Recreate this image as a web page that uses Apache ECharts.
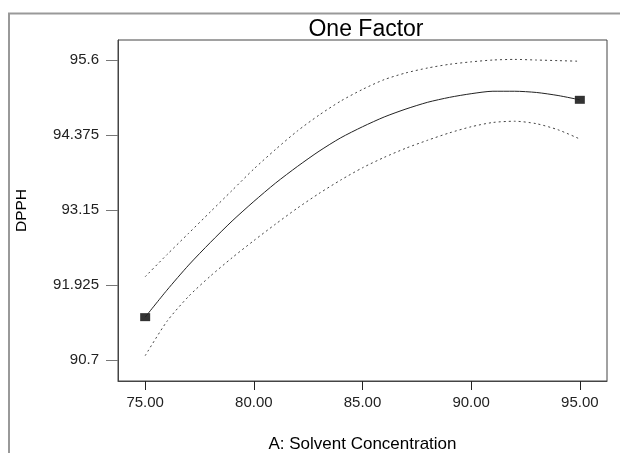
<!DOCTYPE html>
<html>
<head>
<meta charset="utf-8">
<script src="https://cdn.jsdelivr.net/npm/echarts@6/dist/echarts.min.js"></script>
<style>
html,body{margin:0;padding:0;background:#fff;}
#chart{width:620px;height:453px;}
</style>
</head>
<body>
<div id="chart"></div>
<script>
// Solvent concentration (x)
var xValues = [75,76,77,78,79,80,81,82,83,84,85,86,87,88,89,90,91,92,93,94,95];
// Predicted DPPH (solid line)
var meanValues = [91.40,91.84,92.25,92.62,92.97,93.29,93.59,93.86,94.11,94.33,94.51,94.67,94.80,94.91,94.99,95.05,95.09,95.09,95.07,95.02,94.95];
// Upper 95% CI band (dotted)
var upperValues = [92.06,92.42,92.77,93.12,93.47,93.82,94.14,94.44,94.70,94.93,95.12,95.28,95.39,95.47,95.53,95.57,95.60,95.61,95.60,95.59,95.58];
// Lower 95% CI band (dotted)
var lowerValues = [90.77,91.33,91.74,92.07,92.37,92.65,92.92,93.18,93.42,93.64,93.84,94.01,94.16,94.29,94.41,94.51,94.58,94.60,94.56,94.46,94.31];
// Design points (squares)
var pointX = [75, 95];
var pointY = [91.40, 94.95];
// Tick labels
var xTicks = [75, 80, 85, 90, 95];
var yTicks = [90.7, 91.925, 93.15, 94.375, 95.6];
var yTickLabels = ['90.7', '91.925', '93.15', '94.375', '95.6'];

function pairs(xs, ys) { return xs.map(function (x, i) { return [x, ys[i]]; }); }

var FONT = 'Liberation Sans, Arial, sans-serif';
var chart = echarts.init(document.getElementById('chart'), null, {renderer: 'canvas'});
chart.setOption({
  animation: false,
  backgroundColor: '#fff',
  title: {
    text: 'One Factor',
    left: 361, top: 13, textAlign: 'center',
    textStyle: {fontFamily: FONT, fontSize: 23, fontWeight: 'normal', color: '#000'}
  },
  graphic: [{
    type: 'rect', silent: true,
    shape: {x: 9, y: 13.5, width: 700, height: 600},
    style: {fill: null, stroke: '#999', lineWidth: 2}
  }],
  grid: {left: 118, right: 13, top: 40, bottom: 72, show: true, borderColor: '#444', borderWidth: 1,
    backgroundColor: '#fff', outerBoundsMode: 'none', containLabel: false},
  xAxis: {
    type: 'value', min: 73.75, max: 96.25,
    name: 'A: Solvent Concentration', nameLocation: 'middle', nameGap: 55,
    nameTextStyle: {fontFamily: FONT, fontSize: 17, color: '#000'},
    axisLine: {show: true, lineStyle: {color: '#444'}},
    axisTick: {show: true, customValues: xTicks, length: 9, lineStyle: {color: '#222'}},
    axisLabel: {customValues: xTicks, formatter: function (v) { return v.toFixed(2); }, margin: 14,
      fontFamily: FONT, fontSize: 15, color: '#222'},
    splitLine: {show: false}
  },
  yAxis: {
    type: 'value', min: 90.357, max: 95.927,
    name: 'DPPH', nameLocation: 'middle', nameGap: 88, nameRotate: 90,
    nameTextStyle: {fontFamily: FONT, fontSize: 15.5, color: '#000'},
    axisLine: {show: true, lineStyle: {color: '#444'}},
    axisTick: {show: true, customValues: yTicks, length: 12, lineStyle: {color: '#777'}},
    axisLabel: {customValues: yTicks, margin: 19,
      formatter: function (v) { for (var i = 0; i < yTicks.length; i++) { if (Math.abs(yTicks[i] - v) < 1e-6) return yTickLabels[i]; } return ''; },
      fontFamily: FONT, fontSize: 15, color: '#222'},
    splitLine: {show: false}
  },
  series: [
    {type: 'line', data: pairs(xValues, upperValues), smooth: 0.25, showSymbol: false,
      lineStyle: {color: '#444', width: 1, type: [2, 3]}},
    {type: 'line', data: pairs(xValues, lowerValues), smooth: 0.25, showSymbol: false,
      lineStyle: {color: '#444', width: 1, type: [2, 3]}},
    {type: 'line', data: pairs(xValues, meanValues), smooth: 0.25, showSymbol: false,
      lineStyle: {color: '#222', width: 1}},
    {type: 'scatter', data: pairs(pointX, pointY), symbol: 'rect', symbolSize: [10, 8],
      itemStyle: {color: '#000'}}
  ]
});
</script>
</body>
</html>
